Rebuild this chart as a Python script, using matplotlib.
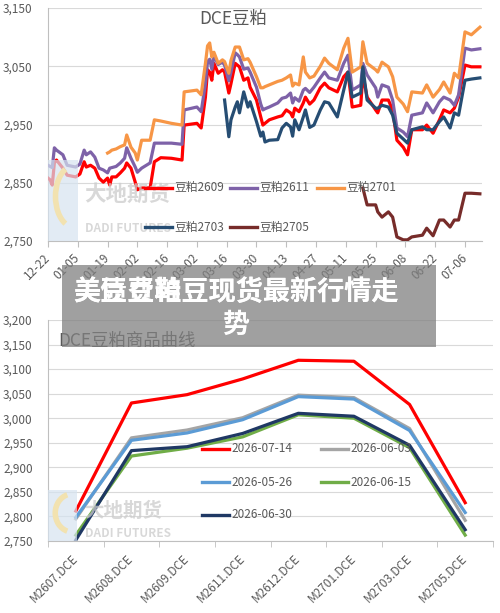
import matplotlib
matplotlib.use("Agg")
import matplotlib.pyplot as plt
import numpy as np
import pandas as pd
from matplotlib.lines import Line2D
from matplotlib.patches import Arc, Rectangle
from matplotlib.ticker import FuncFormatter

plt.rcParams["font.family"] = ["Noto Sans CJK SC", "DejaVu Sans"]

# ---- top chart: DCE soymeal contracts, daily closes (days since 2025-12-22)
START = "2025-12-22"
day_offset = [0, 1, 2, 3, 4, 7, 9, 13, 15, 17,
              18, 20, 22, 24, 26, 28, 29, 30, 32, 34,
              36, 37, 39, 41, 42, 44, 48, 50, 53, 58,
              63, 64, 70, 72, 74, 75, 76, 77, 78, 80,
              82, 83, 85, 86, 88, 89, 90, 92, 94, 95,
              98, 100, 101, 102, 104, 108, 110, 112, 114, 115,
              116, 118, 120, 121, 123, 125, 128, 130, 132, 136,
              139, 141, 143, 147, 148, 150, 154, 155, 157, 160,
              162, 164, 167, 169, 171, 176, 178, 181, 184, 186,
              189, 191, 193, 196, 199, 203]

m2609 = [2858, 2855, 2846, 2884, 2889, 2875, 2863, 2860, 2865, 2886,
         2877, 2880, 2875, 2858, 2851, 2858, 2846, 2860, 2860, 2867,
         2875, 2884, 2875, 2851, 2838, 2841, 2841, 2886, 2893, 2892,
         2889, 2949, 2952, 2944, 2997, 3044, 3040, 3026, 3055, 3038,
         3044, 3040, 3004, 3020, 3055, 3052, 3049, 3026, 3030, 3014,
         2992, 2963, 2949, 2952, 2958, 2963, 2965, 2975, 2970, 2963,
         2978, 2972, 2987, 2997, 2985, 2992, 3013, 3021, 3013, 3006,
         3032, 3040, 2980, 2983, 3035, 2997, 2975, 2970, 2992, 2992,
         2975, 2923, 2911, 2898, 2941, 2941, 2949, 2935, 2958, 2975,
         2970, 2978, 2997, 3052, 3049, 3049]

m2611 = [2880, 2878, 2876, 2910, 2906, 2898, 2880, 2877, 2882, 2906,
         2898, 2903, 2894, 2875, 2872, 2867, 2875, 2876, 2878, 2884,
         2892, 2910, 2892, 2877, 2868, 2875, 2884, 2918, 2918, 2918,
         2916, 2975, 2980, 2972, 3020, 3058, 3062, 3045, 3068, 3053,
         3057, 3052, 3025, 3040, 3073, 3070, 3066, 3045, 3047, 3040,
         3014, 2985, 2975, 2977, 2980, 2987, 2995, 2997, 3004, 2987,
         2996, 2990, 3009, 3012, 3005, 3014, 3030, 3040, 3030, 3026,
         3055, 3069, 3009, 3018, 3055, 3035, 3013, 2997, 3018, 3014,
         2992, 2944, 2937, 2929, 2966, 2970, 2987, 2970, 2989, 2997,
         2992, 2983, 3001, 3081, 3078, 3080]

m2701 = [None] * 15 + [2901, 2903, 2906, 2908, 2912,
         2915, 2932, 2911, 2901, 2889, 2923, 2923, 2958, 2956, 2952,
         2949, 3006, 3009, 3001, 3055, 3085, 3090, 3066, 3074, 3055,
         3061, 3058, 3038, 3060, 3083, 3083, 3083, 3061, 3063, 3057,
         3032, 3013, 3013, 3015, 3018, 3024, 3026, 3030, 3035, 3016,
         3021, 3018, 3066, 3040, 3030, 3033, 3050, 3064, 3055, 3044,
         3081, 3098, 3040, 3049, 3092, 3055, 3044, 3040, 3057, 3049,
         3032, 2997, 2985, 2972, 3006, 3004, 3018, 2997, 3010, 3023,
         3004, 3038, 3030, 3109, 3104, 3117]

m2703 = [None] * 41 + [2992, 2929, 2958, 2980, 2989, 2970, 3006, 2980, 2989,
         2955, 2930, 2937, 2920, 2923, 2924, 2944, 2952, 2946, 2930,
         2958, 2941, 2963, 2975, 2945, 2949, 2975, 2989, 2987, 2963,
         3009, 3040, 2997, 3004, 3049, 2992, 2978, 2978, 2983, 2980,
         2966, 2935, 2925, 2918, 2941, 2946, 2941, 2941, 2955, 2963,
         2944, 2970, 2966, 3026, 3028, 3030]

m2705 = [None] * 74 + [2841, 2812, 2812, 2800, 2791, 2800,
         2791, 2757, 2752, 2752, 2757, 2760, 2772, 2759, 2786, 2786,
         2774, 2786, 2786, 2832, 2832, 2831]

top_series = [
    ("豆粕2609", m2609, "#FF0000"),
    ("豆粕2611", m2611, "#7E62A8"),
    ("豆粕2701", m2701, "#F79646"),
    ("豆粕2703", m2703, "#264D73"),
    ("豆粕2705", m2705, "#772C2A"),
]

# ---- bottom chart: forward curve on several dates
contracts = ["M2607.DCE", "M2608.DCE", "M2609.DCE", "M2611.DCE",
             "M2612.DCE", "M2701.DCE", "M2703.DCE", "M2705.DCE"]
curve_0714 = [2811, 3031, 3048, 3080, 3118, 3116, 3028, 2828]
curve_0603 = [2795, 2960, 2976, 3001, 3047, 3042, 2979, 2792]
curve_0526 = [2798, 2955, 2970, 2997, 3044, 3039, 2975, 2808]
curve_0615 = [2762, 2923, 2939, 2962, 3007, 3000, 2940, 2762]
curve_0630 = [2752, 2934, 2942, 2969, 3010, 3004, 2945, 2773]

bottom_series = [
    ("2026-07-14", curve_0714, "#FF0000"),
    ("2026-06-03", curve_0603, "#A5A5A5"),
    ("2026-05-26", curve_0526, "#5B9BD5"),
    ("2026-06-15", curve_0615, "#70AD47"),
    ("2026-06-30", curve_0630, "#1F3864"),
]

W, H = 500, 613
TXT = "#595959"
AXC = "#BFBFBF"
GRID = "#D9D9D9"


def px(x, y):
    """pixel position (from top-left) -> figure fraction"""
    return x / W, 1 - y / H


def legend_item(fig, x, y, color, label):
    x0, y0 = px(x, y)
    x1, _ = px(x + 27, y)
    fig.add_artist(Line2D([x0, x1], [y0, y0], color=color, lw=2.4,
                          transform=fig.transFigure, zorder=6))
    fig.text(*px(x + 29, y), label, fontsize=8.5, color=TXT,
             ha="left", va="center", zorder=6)


def watermark(fig, x, y, w, h, font_big, font_small):
    fig.add_artist(Rectangle(px(x, y + h), w / W, h / H, color="#D6E3F0",
                             alpha=0.7, transform=fig.transFigure, zorder=0.5,
                             lw=0))
    fig.add_artist(Arc(px(x + w * 0.85, y + h * 0.45), w * 1.2 / W, h * 0.75 / H,
                       theta1=110, theta2=250, color="#F2E2B0", lw=4,
                       transform=fig.transFigure, zorder=0.6))
    fig.text(*px(x + 36, y + h * 0.42), "大地期货", fontsize=font_big,
             fontweight="bold", color="#CCCCCC", alpha=0.75,
             ha="left", va="center", zorder=0.6)
    fig.text(*px(x + 37, y + h * 0.85), "DADI FUTURES", fontsize=font_small,
             fontweight="bold", color="#CCCCCC", alpha=0.75,
             ha="left", va="center", zorder=0.6)


def style_axes(ax, pad_y):
    for side in ("top", "right"):
        ax.spines[side].set_visible(False)
    for side in ("left", "bottom"):
        ax.spines[side].set_color(AXC)
        ax.spines[side].set_linewidth(0.8)
    ax.yaxis.grid(True, color=GRID, lw=0.8)
    ax.set_axisbelow(True)
    ax.patch.set_alpha(0)
    ax.tick_params(axis="y", length=0, labelsize=8.5, labelcolor=TXT, pad=pad_y)
    ax.yaxis.set_major_formatter(FuncFormatter(lambda v, _: f"{v:,.0f}"))


fig = plt.figure(figsize=(W / 100, H / 100), dpi=100)

# ---------------- top chart ----------------
ax1 = fig.add_axes([48 / W, 1 - 241 / H, (482 - 48) / W, (241 - 8) / H])
start = pd.Timestamp(START)
dates = start + pd.to_timedelta(day_offset, unit="D")
for name, vals, color in top_series:
    ax1.plot(dates, np.array(vals, dtype=float), color=color, lw=2.3,
             solid_joinstyle="round", zorder=3)
ax1.set_ylim(2750, 3150)
ax1.set_yticks(np.arange(2750, 3151, 100))
ax1.set_xlim(start, start + pd.Timedelta(days=204))
ticks = pd.date_range(start, periods=15, freq="14D")
ax1.set_xticks(ticks)
ax1.set_xticklabels([t.strftime("%m-%d") for t in ticks], rotation=45,
                    ha="right", va="center", rotation_mode="anchor")
style_axes(ax1, pad_y=11)
ax1.tick_params(axis="x", length=4, color=AXC, direction="out",
                labelsize=8.5, labelcolor=TXT, pad=7)

fig.text(*px(233, 19), "DCE豆粕", fontsize=12.5, color=TXT,
         ha="center", va="center")
watermark(fig, 48, 160, 30, 81, 15.5, 8.5)

legend_item(fig, 145, 188, "#FF0000", "豆粕2609")
legend_item(fig, 230, 188, "#7E62A8", "豆粕2611")
legend_item(fig, 317, 188, "#F79646", "豆粕2701")
legend_item(fig, 145, 227, "#264D73", "豆粕2703")
legend_item(fig, 230, 227, "#772C2A", "豆粕2705")

# ---------------- bottom chart ----------------
ax2 = fig.add_axes([48 / W, 1 - 541 / H, (493 - 48) / W, (541 - 320) / H])
x = np.arange(len(contracts))
for name, vals, color in bottom_series:
    ax2.plot(x, vals, color=color, lw=2.3, solid_joinstyle="round", zorder=3)
ax2.set_ylim(2750, 3200)
ax2.set_yticks(np.arange(2750, 3201, 50))
ax2.set_xlim(-0.5, len(contracts) - 0.5)
ax2.set_xticks(x)
ax2.set_xticklabels(contracts, rotation=45, ha="right", va="center",
                    rotation_mode="anchor")
ax2.set_xticks(np.arange(-0.5, len(contracts)), minor=True)
style_axes(ax2, pad_y=11)
ax2.tick_params(axis="x", which="major", length=0, labelsize=8.5,
                labelcolor=TXT, pad=11)
ax2.tick_params(axis="x", which="minor", length=4, color=AXC, direction="out")

fig.text(*px(58, 341), "DCE豆粕商品曲线", fontsize=12.5, color=TXT,
         ha="left", va="center")
watermark(fig, 48, 490, 29, 51, 14, 8.5)

legend_item(fig, 202, 449, "#FF0000", "2026-07-14")
legend_item(fig, 321, 449, "#A5A5A5", "2026-06-03")
legend_item(fig, 202, 482, "#5B9BD5", "2026-05-26")
legend_item(fig, 321, 482, "#70AD47", "2026-06-15")
legend_item(fig, 202, 515, "#1F3864", "2026-06-30")

# ---------------- article title overlay ----------------
fig.add_artist(Rectangle(px(62, 347), (436 - 62) / W, (347 - 265) / H,
                         color="#808080", alpha=0.75, lw=0,
                         transform=fig.transFigure, zorder=10))
fig.text(*px(236, 292), "美豆豆粕豆现货最新行情走", fontsize=19.5, fontweight="bold",
         color="white", ha="center", va="center", zorder=11)
fig.text(*px(236, 292), "美债费鞋豆现货最新行情走", fontsize=19.5, fontweight="bold",
         color="white", ha="center", va="center", zorder=11)
fig.text(*px(236, 325), "势", fontsize=19.5, fontweight="bold",
         color="white", ha="center", va="center", zorder=11)

fig.savefig("out.png", dpi=100)
